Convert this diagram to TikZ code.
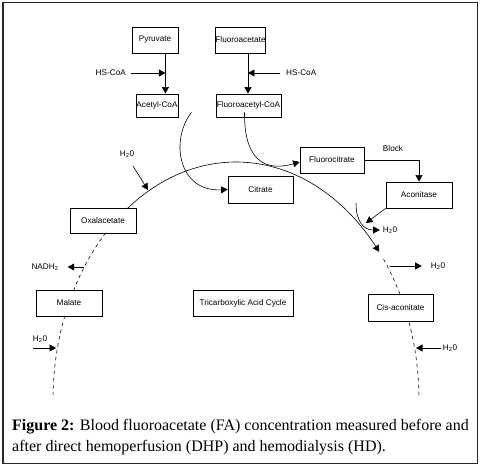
\documentclass[tikz,border=0pt]{standalone}
\usepackage{fontspec}
\setmainfont{Liberation Serif}
\newfontfamily\arialf{Liberation Sans}
\usetikzlibrary{arrows.meta,calc}
\begin{document}
\begin{tikzpicture}[x=1pt,y=-1pt,
  box/.style={draw,line width=0.8pt,inner sep=0pt,font=\arialf\fontsize{8.2}{9}\selectfont},
  lbl/.style={inner sep=1pt,font=\arialf\fontsize{8.2}{9}\selectfont},
  arr/.style={line width=0.6pt,-{Triangle[length=6.5pt,width=7pt]}},
  ln/.style={line width=0.6pt},
  dsh/.style={line width=0.6pt,dash pattern=on 3.5pt off 3.5pt},
  capt/.style={anchor=base west,inner sep=0pt,font=\fontsize{16}{18}\selectfont}]
\useasboundingbox (0,0) rectangle (485,470);
\draw[line width=1.2pt,black!85] (3,2.5) rectangle (477.5,463.5);
% boxes
\node[box,minimum width=46pt,minimum height=26pt] (pyr) at (155,40) {Pyruvate};
\node[box,minimum width=49pt,minimum height=26pt] (fa) at (240.5,40) {Fluoroacetate};
\node[box,minimum width=42pt,minimum height=23pt] (acetyl) at (157,105.5) {Acetyl-CoA};
\node[box,minimum width=65pt,minimum height=23pt] (facoa) at (248.5,105.5) {Fluoroacetyl-CoA};
\node[box,minimum width=64pt,minimum height=26pt] (fc) at (332,160) {Fluorocitrate};
\node[box,minimum width=65pt,minimum height=27pt] (cit) at (260.5,189.5) {Citrate};
\node[box,minimum width=66pt,minimum height=26pt] (acon) at (419,195) {Aconitase};
\node[box,minimum width=66pt,minimum height=25pt] (oxa) at (103,220.5) {Oxalacetate};
\node[box,minimum width=66pt,minimum height=26pt] (mal) at (69,303) {Malate};
\node[box,minimum width=100pt,minimum height=26pt] (tca) at (243,303) {Tricarboxylic Acid Cycle};
\node[box,minimum width=65pt,minimum height=27pt] (cis) at (400.5,307.5) {Cis-aconitate};
% labels
\node[lbl,anchor=east] (hs1) at (127,73) {HS-CoA};
\node[lbl,anchor=west] (hs2) at (285,73) {HS-CoA};
\node[lbl] (block) at (393,149) {Block};
\node[lbl] (h2oA) at (127,154) {H\textsubscript{2}0};
\node[lbl] (nadh) at (45,267) {NADH\textsubscript{2}};
\node[lbl] (h2oB) at (40,339) {H\textsubscript{2}0};
\node[lbl] (h2oC) at (390,230) {H\textsubscript{2}0};
\node[lbl] (h2oD) at (438,266) {H\textsubscript{2}0};
\node[lbl] (h2oE) at (450,348) {H\textsubscript{2}0};
% vertical arrows
\coordinate (p1) at ([xshift=-13pt]pyr.south east);
\draw[arr] (p1) -- (p1 |- acetyl.north);
\coordinate (f1) at ([xshift=-18pt]fa.south east);
\draw[arr] (f1) -- (f1 |- facoa.north);
\draw[arr] ([xshift=4pt]hs1.east) -- (hs1.east -| p1);
\draw[arr] ([xshift=-5pt]hs2.west) -- (hs2.west -| f1);
% curves into citrate / fluorocitrate
\coordinate (a1) at ([shift={(13pt,5pt)}]acetyl.south east);
\draw[arr] (a1) .. controls (170,140) and (178,192) .. (cit.west);
\coordinate (b1) at ([shift={(-4pt,5pt)}]facoa.south);
\draw[arr] (b1) .. controls (244,168) and (272,170) .. ([yshift=-2pt]fc.west);
% block
\draw[arr] (fc.east) -| (acon.north);
% main cycle arc
\draw[ln,{Triangle[length=6.5pt,width=7pt]}-] plot[domain=38.5:126.2,samples=90] ({236+183*cos(\x)},{400-238*sin(\x)});
\draw[dsh] plot[domain=26.45:36.5,samples=20] ({236+183*cos(\x)},{400-238*sin(\x)});
\draw[dsh] plot[domain=1.2:19.4,samples=30] ({236+183*cos(\x)},{400-238*sin(\x)});
\draw[dsh] plot[domain=135.4:152.5,samples=30] ({236+183*cos(\x)},{400-238*sin(\x)});
\draw[dsh] plot[domain=159.3:178.8,samples=30] ({236+183*cos(\x)},{400-238*sin(\x)});
% side arrows
\coordinate (hA1) at (133,166);
\coordinate (hA2) at (148,190);
\draw[arr] (hA1) -- (hA2);
\coordinate (n1) at (84,267);
\draw[arr] (n1) -- ([xshift=8pt]nadh.east);
\coordinate (hB1) at (33,348);
\coordinate (hB2) at (56,348);
\draw[arr] (hB1) -- (hB2);
\coordinate (hE2) at (416,348);
\draw[arr] ([xshift=-1pt]h2oE.west) -- (hE2);
\coordinate (hD1) at (390,266);
\draw[arr] (hD1) -- ([xshift=-8pt]h2oD.west);
\coordinate (c1) at (356,203);
\draw[arr] (c1) .. controls (356,222) and (364,230) .. ([xshift=-2pt]h2oC.west);
\coordinate (ac1) at (366,223);
\draw[arr] (acon.south west) -- (ac1);
% caption
\node[capt] (cap1) at (12,431) {\textbf{Figure 2:} Blood fluoroacetate (FA) concentration measured before and};
\node[capt] (cap2) at (12,451) {after direct hemoperfusion (DHP) and hemodialysis (HD).};
\end{tikzpicture}
\end{document}
